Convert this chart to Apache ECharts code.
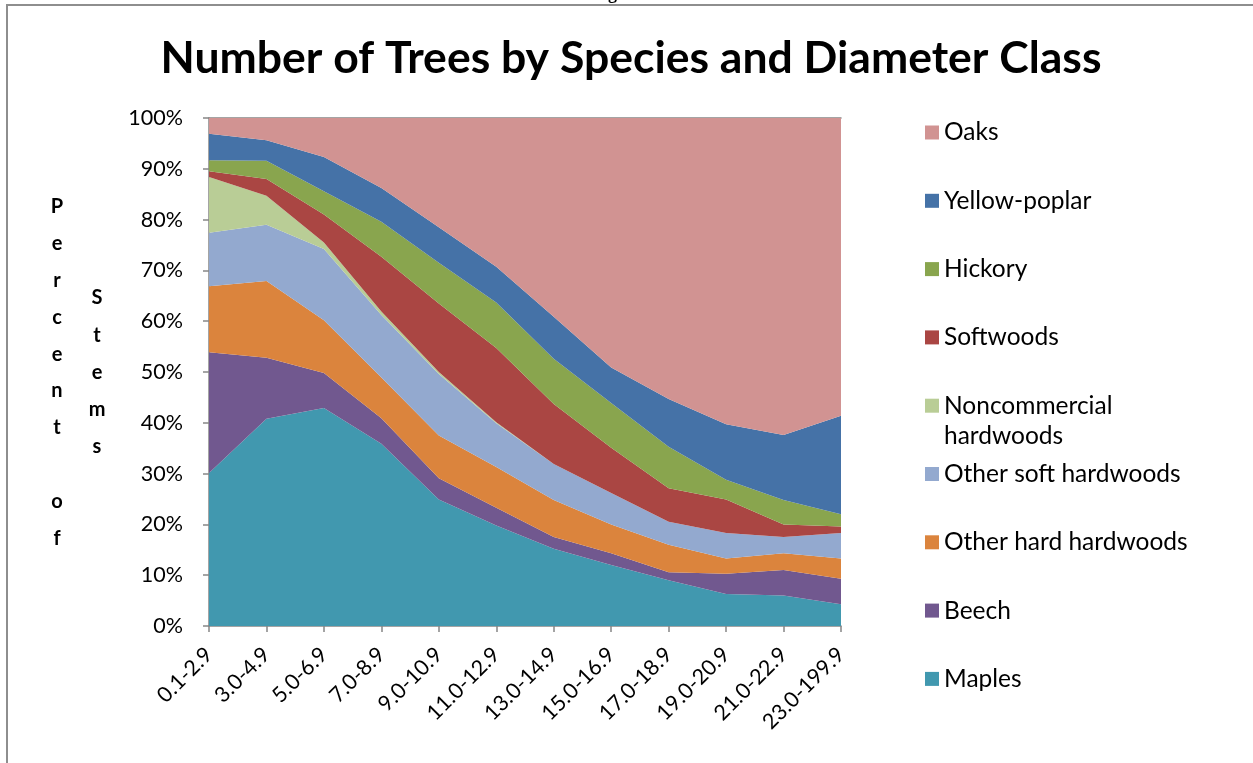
<!DOCTYPE html>
<html>
<head>
<meta charset="utf-8">
<script src="https://cdn.jsdelivr.net/npm/echarts@6/dist/echarts.min.js"></script>
<style>
html,body{margin:0;padding:0;background:#fff;}
#c{width:1253px;height:763px;}
</style>
</head>
<body>
<div id="c"></div>
<script>
const categories = ['0.1-2.9','3.0-4.9','5.0-6.9','7.0-8.9','9.0-10.9','11.0-12.9','13.0-14.9','15.0-16.9','17.0-18.9','19.0-20.9','21.0-22.9','23.0-199.9'];
const maples        = [30.1, 40.8, 42.9, 35.9, 24.9, 19.8, 15.2, 12.0, 9.0, 6.3, 6.0, 4.3];
const beech         = [23.8, 12.0, 6.9, 5.0, 4.2, 3.5, 2.3, 2.3, 1.6, 4.0, 5.0, 5.0];
const otherHard     = [13.0, 15.1, 10.4, 8.0, 8.4, 8.0, 7.3, 5.7, 5.4, 3.0, 3.3, 4.0];
const otherSoft     = [10.5, 11.1, 14.0, 12.3, 12.1, 8.6, 7.1, 6.2, 4.5, 5.0, 3.2, 5.0];
const noncommercial = [11.0, 5.7, 1.3, 0.7, 0.4, 0.2, 0, 0, 0, 0, 0, 0];
const softwoods     = [1.1, 3.3, 5.5, 10.8, 13.5, 14.6, 11.8, 8.9, 6.6, 6.6, 2.5, 1.3];
const hickory       = [2.2, 3.6, 4.6, 6.9, 8.0, 9.0, 8.9, 8.8, 8.2, 3.9, 4.8, 2.4];
const yellowPoplar  = [5.2, 4.0, 6.7, 6.6, 7.0, 7.0, 8.3, 7.0, 9.4, 10.9, 12.8, 19.4];
const oaks          = [3.1, 4.4, 7.7, 13.8, 21.5, 29.3, 39.1, 49.1, 55.3, 60.3, 62.4, 58.6];
const yTicks = [0,10,20,30,40,50,60,70,80,90,100];

const seriesDefs = [
  ['Maples', maples, '#4198AF'],
  ['Beech', beech, '#71588F'],
  ['Other hard hardwoods', otherHard, '#DB843D'],
  ['Other soft hardwoods', otherSoft, '#93A9CF'],
  ['Noncommercial hardwoods', noncommercial, '#B9CD96'],
  ['Softwoods', softwoods, '#AA4643'],
  ['Hickory', hickory, '#89A54E'],
  ['Yellow-poplar', yellowPoplar, '#4572A7'],
  ['Oaks', oaks, '#D19392']
];

const FONT = 'Lato';
const chart = echarts.init(document.getElementById('c'), null, {renderer:'canvas'});
chart.setOption({
  animation:false,
  backgroundColor:'#fff',
  title:{
    text:'Number of Trees by Species and Diameter Class',
    left:626, textAlign:'center', top:31,
    textStyle:{fontFamily:FONT, fontWeight:'bold', fontSize:44.5, color:'#000'}
  },
  grid:{left:209, right:412, top:118, bottom:137, containLabel:false},
  legend:{
    orient:'vertical', left:920, top:115,
    itemWidth:14, itemHeight:14, itemGap:43.3,
    icon:'rect',
    data: seriesDefs.map(d=>d[0]).reverse(),
    formatter: n => n==='Noncommercial hardwoods' ? 'Noncommercial' : n,
    textStyle:{fontFamily:FONT, fontSize:24.5, color:'#000', lineHeight:25}
  },
  xAxis:[{
    type:'category', data:categories, boundaryGap:false,
    axisLine:{lineStyle:{color:'#868686', width:1.5}},
    axisTick:{show:true, length:6, lineStyle:{color:'#868686', width:1.5}},
    axisLabel:{rotate:45, margin:25, color:'#000', fontFamily:FONT, fontSize:21.5},
    splitLine:{show:false}
  },{
    type:'category', data:categories, boundaryGap:false, position:'top',
    axisLine:{lineStyle:{color:'#868686', width:1.5}},
    axisTick:{show:false}, axisLabel:{show:false}, splitLine:{show:false}
  }],
  yAxis:{
    type:'value', min:yTicks[0], max:yTicks[yTicks.length-1], interval:10,
    axisLine:{show:true, lineStyle:{color:'#868686', width:1.5}},
    axisTick:{show:true, length:6, lineStyle:{color:'#868686', width:1.5}},
    axisLabel:{formatter:'{value}%', margin:26, color:'#000', fontFamily:FONT, fontSize:21.5},
    splitLine:{show:false}
  },
  graphic:[
    {type:'rect', shape:{x:7, y:5, width:1400, height:900}, style:{fill:'none', stroke:'#8e8e8e', lineWidth:2}, silent:true},
    {type:'text', x:592, y:3, style:{text:'Figure 6.', font:'bold 18px "Liberation Serif"', fill:'#000', verticalAlign:'bottom'}, silent:true, z:-1},
    {type:'text', x:57, y:188.6, style:{text:'P\ne\nr\nc\ne\nn\nt\n\no\nf', font:'bold 20px '+FONT, fill:'#000', align:'center', verticalAlign:'top', lineHeight:36.8}, silent:true},
    {type:'text', x:97, y:279.4, style:{text:'S\nt\ne\nm\ns', font:'bold 20px '+FONT, fill:'#000', align:'center', verticalAlign:'top', lineHeight:37.2}, silent:true},
    {type:'text', x:944, y:436, style:{text:'hardwoods', font:'24.5px '+FONT, fill:'#000', verticalAlign:'middle'}, silent:true}
  ],
  series: seriesDefs.map(d=>({
    name:d[0], type:'line', stack:'total', data:d[1],
    symbol:'none', lineStyle:{width:0}, areaStyle:{color:d[2], opacity:1},
    itemStyle:{color:d[2]}
  }))
});
</script>
</body>
</html>
